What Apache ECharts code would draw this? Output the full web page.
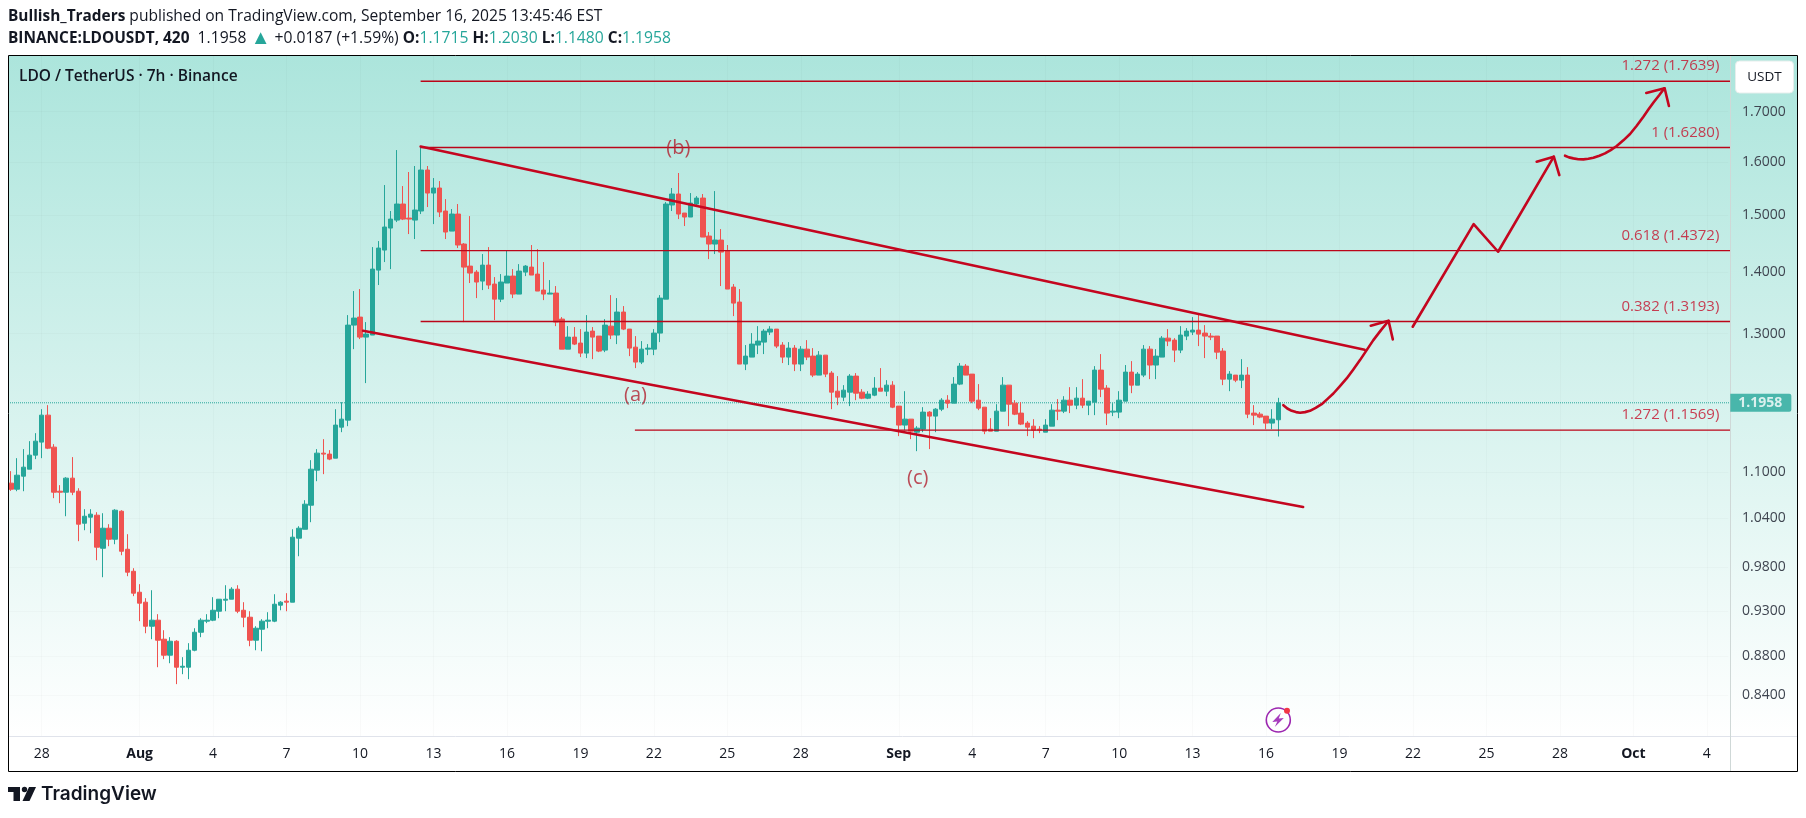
<!DOCTYPE html>
<html><head><meta charset="utf-8">
<style>html,body{margin:0;padding:0;background:#fff}#c{width:1806px;height:818px}</style>
<script src="https://cdn.jsdelivr.net/npm/echarts@6/dist/echarts.min.js"></script>
</head><body><div id="c"></div>
<script>
const open=[1.0851,1.0772,1.0943,1.1036,1.1225,1.1403,1.1781,1.1334,1.0746,1.0733,
1.0917,1.0746,1.0338,1.0414,1.0439,1.0030,1.0276,1.0140,1.0489,1.0018,
.9755,.9511,.9397,.9128,.9195,.8986,.8814,.8964,.8687,.8687,
.8867,.9062,.9184,.9195,.9295,.9420,.9431,.9546,.9306,.9228,
.8975,.9095,.9184,.9184,.9363,.9409,.9397,1.0153,1.0263,1.0566,
1.1023,1.1252,1.1239,1.1184,1.1611,1.1710,1.3135,1.3263,1.2946,1.2978,
1.4038,1.4382,1.4770,1.4913,1.5205,1.4949,1.4913,1.5077,1.5843,1.5408,
1.5502,1.5077,1.4716,1.5022,1.4487,1.4106,1.4004,1.3853,1.4123,1.3803,
1.3554,1.3820,1.3937,1.3637,1.4004,1.4089,1.3971,1.3703,1.3637,1.3654,
1.3231,1.2759,1.2946,1.2853,1.2698,1.3040,1.2962,1.2744,1.3119,1.2978,
1.3344,1.3072,1.2790,1.2561,1.2759,1.2759,1.3009,1.3554,1.5187,1.5390,
1.5040,1.4968,1.5205,1.5315,1.4628,1.4487,1.4557,1.4365,1.3753,1.3506,
1.2531,1.2637,1.2822,1.2868,1.3025,1.3072,1.2822,1.2637,1.2775,1.2531,
1.2759,1.2652,1.2365,1.2667,1.2395,1.2127,1.2040,1.2113,1.2350,1.2113,
1.2025,1.2069,1.2172,1.2127,1.2216,1.1910,1.1640,1.1724,1.1541,1.1583,
1.1824,1.1767,1.1866,1.1996,1.1953,1.2231,1.2500,1.2380,1.1996,1.1895,
1.1583,1.1555,1.1838,1.2216,1.1953,1.1810,1.1668,1.1625,1.1583,1.1541,
1.1625,1.1852,1.1838,1.1996,1.1924,1.2025,1.1924,1.1967,1.2440,1.2172,
1.1824,1.1824,1.1982,1.2410,1.2216,1.2365,1.2759,1.2516,1.2637,1.2930,
1.2899,1.2744,1.2962,1.3025,1.3056,1.3009,1.2962,1.2962,1.2729,1.2305,
1.2365,1.2290,1.2365,1.1810,1.1795,1.1767,1.1668,1.1715];
const close=[1.0772,1.0956,1.1063,1.1225,1.1416,1.1781,1.1320,1.0733,1.0733,1.0917,
1.0733,1.0326,1.0426,1.0452,1.0043,1.0276,1.0140,1.0502,.9994,.9744,
.9500,.9386,.9128,.9195,.8975,.8814,.8964,.8687,.8697,.8867,
.9062,.9195,.9195,.9306,.9431,.9431,.9546,.9295,.9228,.8975,
.9106,.9184,.9195,.9374,.9397,.9397,1.0165,1.0276,1.0579,1.1036,
1.1252,1.1239,1.1171,1.1640,1.1724,1.3135,1.3247,1.2946,1.2993,1.4055,
1.4417,1.4788,1.4931,1.5205,1.4931,1.4931,1.5095,1.5843,1.5408,1.5502,
1.5059,1.4699,1.5022,1.4470,1.4089,1.3988,1.3837,1.4123,1.3787,1.3554,
1.3837,1.3937,1.3637,1.4021,1.4106,1.3954,1.3687,1.3637,1.3654,1.3183,
1.2759,1.2946,1.2837,1.2698,1.3025,1.2946,1.2729,1.3135,1.2978,1.3344,
1.3072,1.2775,1.2561,1.2759,1.2775,1.3009,1.3571,1.5205,1.5390,1.5022,
1.4968,1.5223,1.5315,1.4610,1.4487,1.4557,1.4347,1.3720,1.3489,1.2531,
1.2652,1.2837,1.2884,1.3040,1.3072,1.2806,1.2637,1.2775,1.2531,1.2759,
1.2637,1.2365,1.2667,1.2380,1.2113,1.2040,1.2142,1.2350,1.2098,1.2025,
1.2084,1.2172,1.2127,1.2216,1.1895,1.1640,1.1724,1.1555,1.1597,1.1824,
1.1767,1.1866,1.1996,1.1953,1.2231,1.2500,1.2365,1.1982,1.1881,1.1555,
1.1555,1.1838,1.2216,1.1938,1.1795,1.1654,1.1611,1.1569,1.1569,1.1640,
1.1852,1.1838,1.1996,1.1924,1.2025,1.1924,1.1982,1.2440,1.2157,1.1810,
1.1838,1.1996,1.2410,1.2216,1.2380,1.2759,1.2516,1.2652,1.2930,1.2884,
1.2744,1.2978,1.3040,1.3056,1.2993,1.2962,1.2946,1.2713,1.2305,1.2380,
1.2290,1.2365,1.1795,1.1781,1.1753,1.1668,1.1724,1.1958];
const high=[1.1010,1.1184,1.1307,1.1416,1.1527,1.1866,1.1924,1.1375,1.0825,1.0930,
1.1198,1.0785,1.0515,1.0515,1.0477,1.0464,1.0326,1.0515,1.0502,1.0202,
.9791,.9604,.9443,.9534,.9262,.9084,.9008,.8975,.8793,.8943,
.9106,.9217,.9262,.9454,.9431,.9592,.9569,.9592,.9397,.9295,
.9128,.9206,.9284,.9488,.9409,.9500,1.0263,1.0301,1.0630,1.1157,
1.1307,1.1444,1.1293,1.1866,1.1967,1.3295,1.3687,1.3720,1.3183,1.4434,
1.4539,1.5558,1.5077,1.6230,1.5539,1.5805,1.5920,1.6290,1.5920,1.5690,
1.5633,1.5296,1.5113,1.5205,1.4504,1.4985,1.4038,1.4313,1.4434,1.3920,
1.3971,1.4382,1.4055,1.4140,1.4123,1.4470,1.4399,1.4175,1.3870,1.3770,
1.3263,1.3119,1.3104,1.3072,1.3295,1.3104,1.2962,1.3231,1.3620,1.3571,
1.3441,1.3072,1.2962,1.2884,1.2837,1.3072,1.3620,1.5241,1.5502,1.5786,
1.5040,1.5408,1.5352,1.5390,1.4699,1.5445,1.4752,1.4470,1.3803,1.3720,
1.2822,1.3009,1.3119,1.3072,1.3119,1.3072,1.2868,1.2868,1.2822,1.2806,
1.2899,1.2775,1.2729,1.2667,1.2425,1.2350,1.2216,1.2380,1.2395,1.2157,
1.2127,1.2335,1.2470,1.2290,1.2275,1.1910,1.2127,1.1724,1.1625,1.1895,
1.1838,1.1881,1.2025,1.2069,1.2335,1.2546,1.2531,1.2380,1.2231,1.1895,
1.1738,1.1938,1.2335,1.2216,1.1996,1.1967,1.1696,1.1724,1.1625,1.1724,
1.1938,1.2011,1.2054,1.2186,1.2186,1.2305,1.1982,1.2500,1.2683,1.2216,
1.1953,1.2127,1.2516,1.2576,1.2410,1.2822,1.2806,1.2759,1.2962,1.3072,
1.2930,1.3119,1.3088,1.3263,1.3312,1.3135,1.3009,1.2962,1.2775,1.2425,
1.2365,1.2606,1.2485,1.1924,1.1824,1.1767,1.1866,1.2030];
const low=[1.0750,1.0746,1.0746,1.1036,1.1171,1.1184,1.1307,1.0656,1.0592,1.0426,
1.0695,1.0116,1.0251,1.0214,.9886,.9685,1.0055,1.0079,.9946,.9697,
.9466,.9184,.9051,.8986,.8687,.8772,.8729,.8511,.8614,.8562,
.8856,.9008,.9162,.9184,.9217,.9295,.9431,.9273,.9117,.8910,
.8867,.8856,.9106,.9173,.9306,.9295,.9397,.9934,1.0263,1.0351,
1.0877,1.0970,1.1157,1.1184,1.1541,1.1625,1.2759,1.2915,1.2246,1.2978,
1.3787,1.4175,1.4055,1.4877,1.4913,1.4663,1.4575,1.5022,1.5150,1.4841,
1.4968,1.4575,1.4716,1.4417,1.3183,1.3820,1.3571,1.3703,1.3720,1.3215,
1.3506,1.3820,1.3571,1.3637,1.3937,1.3954,1.3687,1.3538,1.3637,1.3119,
1.2759,1.2759,1.2822,1.2637,1.2622,1.2606,1.2713,1.2713,1.2915,1.2837,
1.3056,1.2652,1.2470,1.2531,1.2667,1.2667,1.2868,1.3554,1.5077,1.4931,
1.4806,1.4968,1.5150,1.4610,1.4226,1.4313,1.3770,1.3720,1.3279,1.2531,
1.2440,1.2637,1.2683,1.2683,1.2978,1.2775,1.2546,1.2516,1.2425,1.2425,
1.2591,1.2335,1.2365,1.2335,1.1866,1.1924,1.1982,1.1910,1.1996,1.2011,
1.2011,1.2054,1.2127,1.2054,1.1881,1.1486,1.1569,1.1444,1.1279,1.1541,
1.1307,1.1541,1.1838,1.1881,1.1953,1.2216,1.2365,1.1953,1.1852,1.1513,
1.1555,1.1555,1.1838,1.1625,1.1781,1.1640,1.1486,1.1458,1.1527,1.1541,
1.1625,1.1710,1.1810,1.1810,1.1866,1.1881,1.1781,1.1781,1.2040,1.1640,
1.1767,1.1738,1.1982,1.2098,1.2216,1.2335,1.2305,1.2305,1.2637,1.2806,
1.2561,1.2698,1.2899,1.2978,1.2806,1.2622,1.2899,1.2606,1.2216,1.2127,
1.2260,1.2172,1.1738,1.1640,1.1738,1.1583,1.1583,1.1480];

const slotCount=281;
const dateLabels=['28','Aug','4','7','10','13','16','19','22','25','28','Sep','4','7','10','13','16','19','22','25','28','Oct','4'];
const dateSlots=[5,21,33,45,57,69,81,93,105,117,129,145,157,169,181,193,205,217,229,241,253,265,277];
const monthLabels=['Aug','Sep','Oct'];
const priceTicks=[0.84,0.88,0.93,0.98,1.04,1.1,1.3,1.4,1.5,1.6,1.7];
const lastPrice=1.1958;
const yMin=0.7991,yMax=1.8184;
const xFirst=-0.5,xLast=280.5,xEdge=280.83;

const fibLevels=[1.7639,1.6280,1.4372,1.3193,1.1569];
const fibNames=['1.272 (1.7639)','1 (1.6280)','0.618 (1.4372)','0.382 (1.3193)','1.272 (1.1569)'];
const fibStart=[66.9,66.9,66.9,66.9,101.9];
const channelUpper=[[66.9,1.630],[221.1,1.2749]];
const channelLower=[[57.5,1.3045],[211.05,1.0543]];
const waveLabels=[['(a)',102.0,1.2069],['(b)',109.0,1.6263],['(c)',148.1,1.0912]];
const curveOne=[[207.82,1.1924],[208.47,1.1876],[209.18,1.1842],[209.89,1.1824],[210.54,1.1814],[211.36,1.1824],[212.17,1.1842],[213.1,1.1885],[214.08,1.1938],[215.0,1.2011],[215.99,1.2093],[217.07,1.2201],[218.16,1.2315],[219.25,1.2450],[220.34,1.2591],[221.43,1.2744],[222.52,1.2899],[223.77,1.3056],[225.02,1.3204]];
const arrowOne=[[222.1,1.3125],[225.0,1.3204],[225.7,1.2910]];
const zigzag=[[228.95,1.3109],[238.9,1.4841],[242.9,1.4353],[252.0,1.6100]];
const arrowTwo=[[249.2,1.6003],[252.0,1.6100],[252.9,1.5747]];
const curveThree=[[253.83,1.6120],[254.48,1.6087],[255.19,1.6068],[256.0,1.6052],[256.83,1.6049],[257.64,1.6059],[258.46,1.6081],[259.44,1.6120],[260.36,1.6165],[261.29,1.6230],[262.27,1.6309],[263.36,1.6422],[264.45,1.6548],[265.54,1.6715],[266.63,1.6897],[267.5,1.7056],[268.37,1.7207],[269.24,1.7347],[270.06,1.7488]];
const arrowThree=[[267.1,1.7389],[270.1,1.7488],[270.8,1.7118]];

const RED='#c4061f',FIB='#bb0519',UP='#26a69a',DOWN='#ef5350',INK='#131722';
const FONT='"Open Sans","Noto Sans",sans-serif';
const categories=Array.from({length:slotCount},(_,i)=>String(i));
const candles=open.map((o,i)=>[o,close[i],low[i],high[i]]);
const overlay=(data,width)=>({type:'line',xAxisIndex:1,data,symbol:'none',smooth:false,silent:true,z:5,clip:false,
  lineStyle:{color:RED,width,cap:'round',join:'round'}});
const series=[
 {type:'candlestick',xAxisIndex:0,data:candles,barWidth:5,z:3,silent:true,
  itemStyle:{color:UP,color0:DOWN,borderColor:UP,borderColor0:DOWN,borderWidth:1}},
 {type:'line',xAxisIndex:1,data:[[xFirst,lastPrice],[xEdge,lastPrice]],symbol:'none',z:2,silent:true,clip:false,
  lineStyle:{color:UP,width:1,type:'dotted'}},
];
fibLevels.forEach((v,i)=>series.push({type:'line',xAxisIndex:1,data:[[fibStart[i],v],[xEdge,v]],symbol:'none',z:4,silent:true,clip:false,lineStyle:{color:FIB,width:1.4}}));
series.push(overlay(channelUpper,2.6),overlay(channelLower,2.6),overlay(curveOne,2.6),overlay(arrowOne,2.6),overlay(zigzag,2.6),overlay(arrowTwo,2.6),overlay(curveThree,2.6),overlay(arrowThree,2.6));
series.push({type:'scatter',xAxisIndex:1,symbolSize:0,silent:true,z:6,clip:false,
  data:fibLevels.map((v,i)=>({value:[xEdge,v],label:{formatter:fibNames[i]}})),
  label:{show:true,position:'left',offset:[-6,-15],color:'#c4102a',fontSize:15,fontFamily:FONT}});
series.push({type:'scatter',xAxisIndex:1,symbolSize:0,silent:true,z:6,
  data:waveLabels.map(w=>({value:[w[1],w[2]],label:{formatter:w[0]}})),
  label:{show:true,position:'inside',color:'#b2202f',fontSize:20,fontFamily:FONT}});
series.push({type:'scatter',xAxisIndex:1,symbolSize:0,silent:true,z:8,clip:false,
  data:[{value:[xEdge,lastPrice]}],
  label:{show:true,position:'right',offset:[-5,0],distance:5,formatter:lastPrice.toFixed(4),color:'#fff',fontSize:14,fontWeight:'bold',fontFamily:FONT,backgroundColor:UP,padding:[2,9,2,8],borderRadius:[0,2,2,0]}});

const richHead={b:{font:'bold 15.4px '+FONT,fill:INK},t:{font:'15.7px '+FONT,fill:UP},up:{font:'20px '+FONT,fill:UP}};
const option={
 animation:false,backgroundColor:'#fff',
 grid:{left:8,right:77.7,top:56,bottom:81.7,show:false},
 xAxis:[{type:'category',data:categories,boundaryGap:true,
   axisLine:{show:false},axisTick:{show:false},
   splitLine:{show:true,alignWithLabel:true,interval:(i)=>dateSlots.includes(i),lineStyle:{color:'rgba(42,46,57,0.025)',width:1}},
   axisLabel:{interval:(i)=>dateSlots.includes(i),margin:11,color:INK,fontSize:14,fontFamily:FONT,
     formatter:(v)=>{const t=dateLabels[dateSlots.indexOf(+v)];return monthLabels.includes(t)?'{b|'+t+'}':t;},
     rich:{b:{fontWeight:'bold',fontSize:14,color:INK,fontFamily:FONT}}}},
  {type:'value',min:xFirst,max:xLast,show:false,splitLine:{show:false}}],
 yAxis:{type:'log',logBase:10,min:yMin,max:yMax,position:'right',
   axisLine:{show:false},axisTick:{show:false,customValues:priceTicks},
   splitLine:{show:true,lineStyle:{color:'rgba(42,46,57,0.025)'}},
   axisLabel:{customValues:priceTicks,margin:13.7,color:'#3f4550',fontSize:14,fontFamily:FONT,formatter:(v)=>(+v).toFixed(4)}},
 series,
 graphic:{elements:[
  {type:'rect',z:-5,silent:true,shape:{x:8,y:56,width:1789,height:680},
   style:{fill:new echarts.graphic.LinearGradient(0,0,0,1,[{offset:0,color:'#ace5dc'},{offset:1,color:'#ffffff'}])}},
  {type:'rect',z:20,silent:true,shape:{x:8.5,y:55.5,width:1789,height:716},style:{fill:'none',stroke:'#000',lineWidth:1}},
  {type:'line',z:1,silent:true,shape:{x1:8,y1:736.5,x2:1797,y2:736.5},style:{stroke:'#e0e3eb',lineWidth:1}},
  {type:'line',z:1,silent:true,shape:{x1:1730.5,y1:56,x2:1730.5,y2:771},style:{stroke:'#cfd8d7',lineWidth:1}},
  {type:'rect',z:12,silent:true,shape:{x:1735.5,y:61,width:58,height:32,r:4},style:{fill:'#fff',stroke:'#e6eeec',lineWidth:1}},
  {type:'text',z:13,silent:true,x:1764.5,y:77,style:{text:'USDT',align:'center',verticalAlign:'middle',fill:INK,font:'13.5px '+FONT}},
  {type:'text',z:13,silent:true,x:19,y:77,style:{text:'LDO / TetherUS · 7h · Binance',verticalAlign:'middle',fill:INK,font:'600 15.5px '+FONT}},
  {type:'text',z:13,silent:true,x:8,y:16.5,style:{verticalAlign:'middle',
    text:'{b|Bullish_Traders} published on TradingView.com, September 16, 2025 13:45:46 EST',
    fill:INK,font:'15.6px '+FONT,rich:richHead}},
  {type:'text',z:13,silent:true,x:8,y:38.5,style:{verticalAlign:'middle',
    text:'{b|BINANCE:LDOUSDT, 420}  1.1958 {up|▲} +0.0187 (+1.59%) {b|O:}{t|1.1715} {b|H:}{t|1.2030} {b|L:}{t|1.1480} {b|C:}{t|1.1958}',
    fill:INK,font:'15.7px '+FONT,rich:richHead}},
  {type:'group',z:14,silent:true,x:1278.3,y:720,children:[
    {type:'circle',z:14,shape:{cx:0,cy:0,r:12},style:{fill:'none',stroke:'#9c27b0',lineWidth:1.6}},
    {type:'polygon',z:14,shape:{points:[[2.5,-7],[-6,2],[-1,1.5],[-3.5,7],[5.5,-2],[0.5,-1.5]]},style:{fill:'#a63bbd'}},
    {type:'circle',z:15,shape:{cx:8.7,cy:-9.3,r:3},style:{fill:'#f23645'}}]},
  {type:'polygon',z:14,silent:true,shape:{points:[[8,787],[20,787],[20,801],[13.5,801],[13.5,792],[8,792]]},style:{fill:INK}},
  {type:'circle',z:14,silent:true,shape:{cx:24.5,cy:789.5,r:2.7},style:{fill:INK}},
  {type:'polygon',z:14,silent:true,shape:{points:[[29,787],[36,787],[29.5,801],[22.5,801]]},style:{fill:INK}},
  {type:'text',z:14,silent:true,x:41,y:794,style:{text:'TradingView',verticalAlign:'middle',fill:INK,font:'600 19px Inter,'+FONT}}
 ]}
};
const chart=echarts.init(document.getElementById('c'),null,{renderer:'canvas'});
chart.setOption(option);
</script></body></html>
